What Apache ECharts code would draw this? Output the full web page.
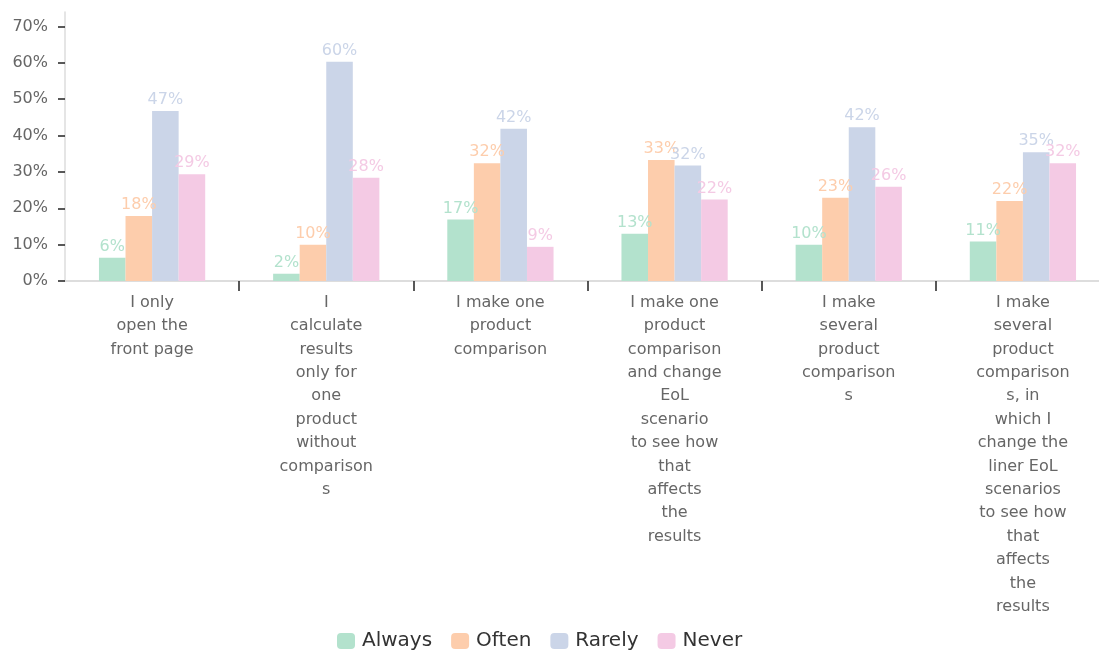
<!DOCTYPE html>
<html>
<head>
<meta charset="utf-8">
<script src="https://cdn.jsdelivr.net/npm/echarts@6/dist/echarts.min.js"></script>
<style>
  html, body { margin: 0; padding: 0; background: #fff; }
  #chart { width: 1099px; height: 651px; }
</style>
</head>
<body>
<div id="chart"></div>
<script>
// categories (line breaks as in the picture)
var categories = [
  'I only\nopen the\nfront page',
  'I\ncalculate\nresults\nonly for\none\nproduct\nwithout\ncomparison\ns',
  'I make one\nproduct\ncomparison',
  'I make one\nproduct\ncomparison\nand change\nEoL\nscenario\nto see how\nthat\naffects\nthe\nresults',
  'I make\nseveral\nproduct\ncomparison\ns',
  'I make\nseveral\nproduct\ncomparison\ns, in\nwhich I\nchange the\nliner EoL\nscenarios\nto see how\nthat\naffects\nthe\nresults'
];

// values in %
var always = [6.4, 2.0, 16.9, 13.0, 10.0, 10.9];
var often  = [17.9, 10.0, 32.4, 33.3, 22.9, 22.0];
var rarely = [46.8, 60.3, 41.9, 31.8, 42.3, 35.4];
var never  = [29.4, 28.4, 9.4, 22.4, 25.9, 32.4];

var seriesNames = ['Always', 'Often', 'Rarely', 'Never'];
var colors = ['#b3e2cd', '#fdcdac', '#cbd5e8', '#f4cae4'];
var yTicks = [0, 10, 20, 30, 40, 50, 60, 70];

var font = 'DejaVu Sans';

var chart = echarts.init(document.getElementById('chart'));

var series = [always, often, rarely, never].map(function (data, i) {
  return {
    name: seriesNames[i],
    type: 'bar',
    data: data,
    barGap: '0%',
    barCategoryGap: '39%',
    itemStyle: { color: colors[i] },
    label: {
      show: true,
      position: 'top',
      distance: 3,
      color: colors[i],
      fontFamily: font,
      fontSize: 16,
      formatter: function (p) { return Math.round(p.value) + '%'; }
    }
  };
});

var option = {
  animation: false,
  color: colors,
  grid: {
    left: 65, right: -11, top: 12, bottom: 370,
    containLabel: false,
    outerBoundsMode: 'none'
  },
  legend: {
    data: seriesNames,
    bottom: 0,
    left: 337,
    padding: 0,
    itemWidth: 18,
    itemHeight: 16,
    itemGap: 19,
    textStyle: { fontFamily: font, fontSize: 20, color: '#333', padding: [0, 0, 0, 2] }
  },
  xAxis: {
    type: 'category',
    data: categories,
    axisLine: { lineStyle: { color: '#ddd', width: 2 } },
    axisTick: {
      show: true,
      length: 10,
      lineStyle: { color: '#222', width: 1.5 },
      // no tick where the x axis meets the y axis
      interval: function (index) { return index !== 0; }
    },
    axisLabel: {
      interval: 0,
      margin: 10,
      fontFamily: font,
      fontSize: 16,
      color: '#666',
      lineHeight: 23.4,
      align: 'center',
      verticalAlign: 'top'
    }
  },
  yAxis: {
    type: 'value',
    min: 0,
    max: 74,
    interval: 10,
    splitLine: { show: false },
    axisLine: { show: true, lineStyle: { color: '#ddd', width: 1.5 } },
    axisTick: {
      show: true,
      length: 7,
      lineStyle: { color: '#222', width: 1.5 },
      customValues: yTicks
    },
    axisLabel: {
      margin: 17,
      fontFamily: font,
      fontSize: 16,
      color: '#666',
      customValues: yTicks,
      formatter: function (v) { return v + '%'; }
    }
  },
  series: series
};

chart.setOption(option);
</script>
</body>
</html>
